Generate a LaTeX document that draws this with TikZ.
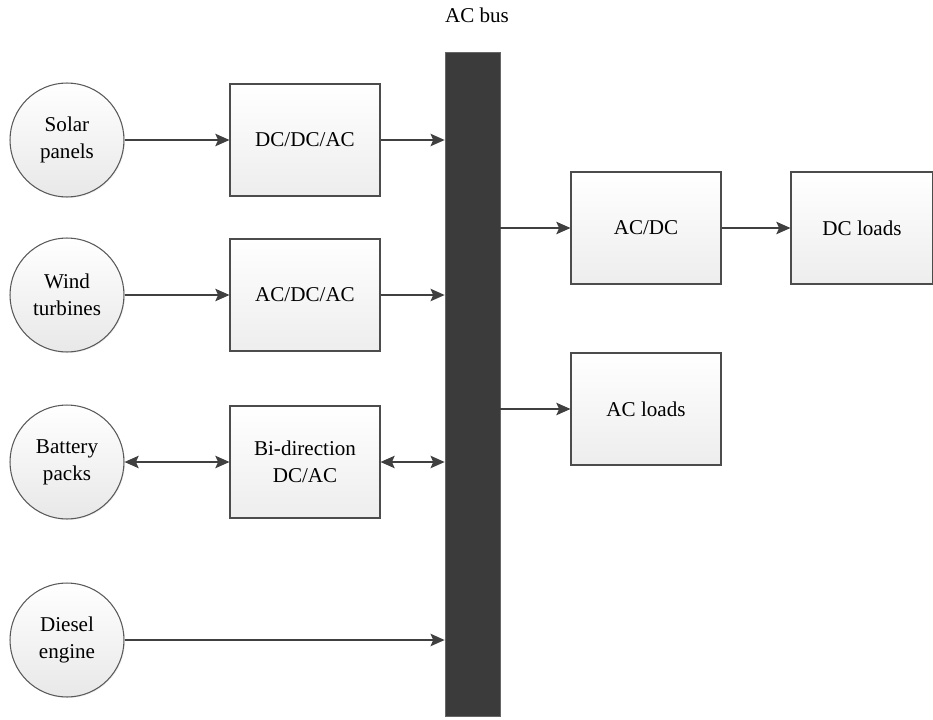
\documentclass[tikz,border=0pt]{standalone}
\usepackage{fontspec}
\setmainfont{Liberation Serif}
\usepackage{tikz}
\usetikzlibrary{arrows.meta,shadows}

\begin{document}
\begin{tikzpicture}[x=0.02cm,y=-0.02cm,>={Stealth[length=8pt,width=7pt,inset=1.5pt]},
		font=\fontsize{12}{15.5}\selectfont,
		src/.style={circle,draw=black!65,line width=0.6pt,minimum size=2.28cm,inner sep=0pt,
			align=center,top color=white,bottom color=black!9,
			drop shadow={shadow xshift=0.6pt,shadow yshift=-0.6pt,opacity=0.12}},
		conv/.style={rectangle,draw=black!70,line width=0.6pt,minimum width=3cm,minimum height=2.24cm,
			align=center,top color=white,bottom color=black!7,
			drop shadow={shadow xshift=0.8pt,shadow yshift=-0.8pt,opacity=0.12}},
		link/.style={line width=1.2pt,draw=black!75},
		]
		% bounding box of the figure
		\useasboundingbox (0,0) rectangle (933,720);
		
		% AC bus
		\node[rectangle,fill=black!77,draw=black!60,minimum width=1.1cm,minimum height=13.28cm,inner sep=0pt,
			drop shadow={shadow xshift=0.8pt,shadow yshift=-0.8pt,opacity=0.12}] (bus) at (472.5,384) {};
		\node (buslbl) at (477,15) {AC bus};
		
		% sources
		\node[src] (solar) at (67,140) {Solar\\panels};
		\node[src] (wind) at (67,295) {Wind\\turbines};
		\node[src] (batt) at (67,462) {Battery\\packs};
		\node[src] (diesel) at (67,640) {Diesel\\engine};
		
		% converters on the source side
		\node[conv] (dcdcac) at (305,140) {DC/DC/AC};
		\node[conv] (acdcac) at (305,295) {AC/DC/AC};
		\node[conv] (bidir) at (305,462) {Bi-direction\\DC/AC};
		
		% load side
		\node[conv] (acdc) at (646,228) {AC/DC};
		\node[conv,minimum width=2.84cm] (dcload) at (862,228) {DC loads};
		\node[conv] (acload) at (646,409) {AC loads};
		
		% source connections
		\draw[link,->] (solar) -- (dcdcac);
		\draw[link,->] (dcdcac) -- (dcdcac -| bus.west);
		\draw[link,->] (wind) -- (acdcac);
		\draw[link,->] (acdcac) -- (acdcac -| bus.west);
		\draw[link,<->] (batt) -- (bidir);
		\draw[link,<->] (bidir) -- (bidir -| bus.west);
		\draw[link,->] (diesel) -- (diesel -| bus.west);
		
		% load connections
		\draw[link,->] (acdc -| bus.east) -- (acdc);
		\draw[link,->] (acdc) -- (dcload);
		\draw[link,->] (acload -| bus.east) -- (acload);
	\end{tikzpicture}
\end{document}
